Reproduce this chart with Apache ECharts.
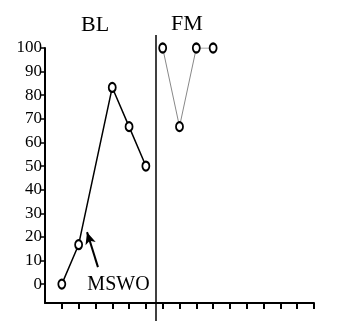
<!DOCTYPE html>
<html><head><meta charset="utf-8">
<script src="https://cdn.jsdelivr.net/npm/echarts@6/dist/echarts.min.js"></script>
<style>html,body{margin:0;padding:0;background:#fff}#c{width:337px;height:321px}</style>
</head><body><div id="c"></div>
<script>
const phaseTitles = ['BL', 'FM'];
const yTicks = [0, 10, 20, 30, 40, 50, 60, 70, 80, 90, 100];
const xTicks = [1, 2, 3, 4, 5, 6, 7, 8, 9, 10, 11, 12, 13, 14, 15, 16];
const blSessions = [1, 2, 4, 5, 6];
const blValues = [0, 16.7, 83.3, 66.7, 50];
const fmSessions = [7, 8, 9, 10];
const fmValues = [100, 66.7, 100, 100];
const phaseChange = 6.6;
const annotation = 'MSWO';
const arrowFrom = [3.15, 7.2];
const arrowTo = [2.5, 22];
const annotationAt = [4.37, -0.3];

const font = '"Liberation Serif", "Times New Roman", serif';
const chart = echarts.init(document.getElementById('c'), null, {renderer: 'canvas'});
const zip = (xs, ys) => xs.map((x, i) => [x, ys[i]]);
const marker = {symbol: 'emptyCircle', symbolSize: [7, 9], itemStyle: {color: '#000', borderWidth: 2}};

chart.setOption({
  animation: false,
  backgroundColor: '#fff',
  title: [
    {text: phaseTitles[0], left: 81, top: 14, padding: 0, textStyle: {fontFamily: font, fontSize: 22, fontWeight: 'normal', color: '#000'}},
    {text: phaseTitles[1], left: 171, top: 13, padding: 0, textStyle: {fontFamily: font, fontSize: 22, fontWeight: 'normal', color: '#000'}}
  ],
  grid: [
    {left: 45, right: 23, top: 48, bottom: 18},
    {left: 45, right: 23, top: 35, bottom: 0}
  ],
  xAxis: [
    {gridIndex: 0, type: 'value', min: 0, max: 16, interval: 1,
     axisLine: {show: true, onZero: false, lineStyle: {color: '#000', width: 2}},
     axisTick: {show: true, inside: false, length: 6, lineStyle: {color: '#000', width: 2}, customValues: xTicks},
     axisLabel: {show: false}, splitLine: {show: false}},
    {gridIndex: 1, type: 'value', min: 0, max: 16, show: false}
  ],
  yAxis: [
    {gridIndex: 0, type: 'value', min: -8, max: 100, interval: 10,
     axisLine: {show: true, onZero: false, lineStyle: {color: '#000', width: 2}},
     axisTick: {show: true, length: 4, lineStyle: {color: '#000', width: 1.5}, customValues: yTicks},
     axisLabel: {show: true, customValues: yTicks, margin: 3, fontFamily: font, fontSize: 17, color: '#000'},
     splitLine: {show: false}},
    {gridIndex: 1, type: 'value', min: 0, max: 1, show: false}
  ],
  series: [
    Object.assign({
      name: phaseTitles[0], type: 'line', xAxisIndex: 0, yAxisIndex: 0,
      data: zip(blSessions, blValues),
      lineStyle: {color: '#000', width: 1.5},
      z: 5,
      markLine: {
        silent: true, symbol: ['none', 'arrow'], symbolSize: [8, 12],
        lineStyle: {color: '#000', width: 2, type: 'solid'},
        label: {show: false},
        data: [[{coord: arrowFrom}, {coord: arrowTo}]]
      },
      markPoint: {
        silent: true, symbol: 'circle', symbolSize: 0,
        label: {show: true, position: 'inside', formatter: annotation, fontFamily: font, fontSize: 20, color: '#000'},
        data: [{coord: annotationAt}]
      }
    }, marker),
    Object.assign({
      name: phaseTitles[1], type: 'line', xAxisIndex: 0, yAxisIndex: 0,
      data: zip(fmSessions, fmValues),
      lineStyle: {color: '#888', width: 1},
      z: 5
    }, marker),
    {
      type: 'line', xAxisIndex: 1, yAxisIndex: 1, data: [],
      markLine: {
        silent: true, symbol: ['none', 'none'],
        lineStyle: {color: '#000', width: 1.5, type: 'solid'},
        label: {show: false},
        data: [{xAxis: phaseChange}]
      }
    }
  ]
});
</script></body></html>
